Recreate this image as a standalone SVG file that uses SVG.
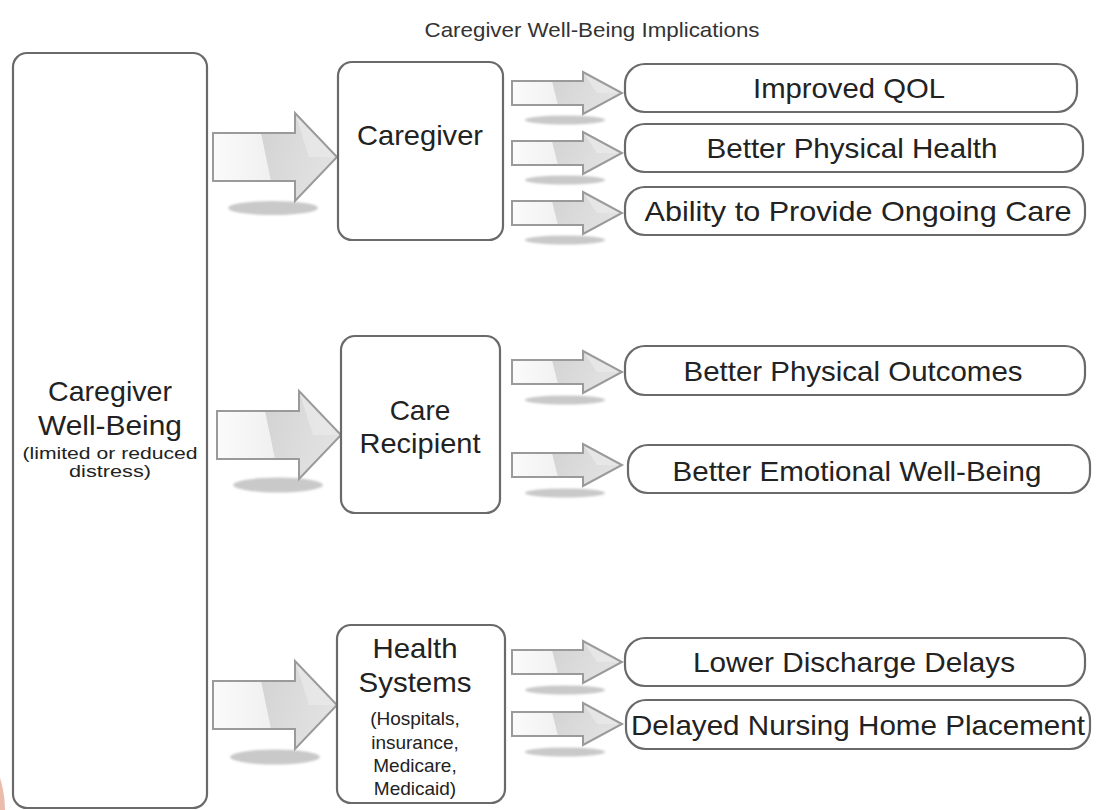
<svg xmlns="http://www.w3.org/2000/svg" width="1096" height="810" viewBox="0 0 1096 810">
  <defs>
    <style>
      text { font-family: "Liberation Sans", Arial, Helvetica, sans-serif; fill: #222; text-anchor: middle; }
      .title { font-size: 21px; fill: #333; }
      .big { font-size: 28px; }
      .small { font-size: 19px; }
      .note { font-size: 17px; }
      .box { fill: #fff; stroke: #6a6a6a; stroke-width: 2.2; }
      .arrow-outline { stroke: #9a9a9a; stroke-width: 2; stroke-linejoin: miter; }
      .shadow { fill: #c9c9c9; filter: url(#soft); }
    </style>
    <filter id="soft" x="-20%" y="-100%" width="140%" height="300%">
      <feGaussianBlur stdDeviation="1.2"/>
    </filter>
    <linearGradient id="bodyFill" x1="0" y1="0" x2="1" y2="0">
      <stop offset="0" stop-color="#fbfbfb"/>
      <stop offset="0.5" stop-color="#efefef"/>
      <stop offset="1" stop-color="#e4e4e4"/>
    </linearGradient>
    <linearGradient id="darkFill" x1="0" y1="0" x2="1" y2="0.4">
      <stop offset="0" stop-color="#d2d2d2"/>
      <stop offset="0.6" stop-color="#dcdcdc"/>
      <stop offset="1" stop-color="#e2e2e2"/>
    </linearGradient>
    <!-- large block arrow, origin at tail centre -->
    <g id="bigArrow">
      <path d="M0,-24 H82 V-44 L124,0 L82,44 V24 H0 Z" fill="url(#bodyFill)"/>
      <path d="M48,-24 H82 V-44 L124,0 L82,44 V24 H58 Z" fill="url(#darkFill)"/>
      <path d="M82,-44 L124,0 L96,0 Z" fill="#e9e9e9" opacity="0.8"/>
      <path d="M0,-24 H82 V-44 L124,0 L82,44 V24 H0 Z" fill="none" class="arrow-outline"/>
    </g>
    <!-- small block arrow, origin at tail centre -->
    <g id="smallArrow">
      <path d="M0,-12 H71 V-21 L110,0 L71,21 V12 H0 Z" fill="url(#bodyFill)"/>
      <path d="M40,-12 H71 V-21 L110,0 L71,21 V12 H46 Z" fill="url(#darkFill)"/>
      <path d="M71,-21 L110,0 L85,0 Z" fill="#e9e9e9" opacity="0.8"/>
      <path d="M0,-12 H71 V-21 L110,0 L71,21 V12 H0 Z" fill="none" class="arrow-outline" stroke-width="1.6"/>
    </g>
  </defs>

  <rect width="1096" height="810" fill="#fff"/>

  <!-- corner mark -->
  <circle cx="-100" cy="810" r="105" fill="#ebbcab"/>

  <text class="title" x="592" y="37" textLength="335" lengthAdjust="spacingAndGlyphs">Caregiver Well-Being Implications</text>

  <!-- connectors: block arrows with floor shadows -->
  <g id="connectors">
    <ellipse class="shadow" cx="273" cy="208" rx="45" ry="7"/>
    <use href="#bigArrow" transform="translate(213,157)"/>
    <ellipse class="shadow" cx="278" cy="485" rx="45" ry="7.5"/>
    <use href="#bigArrow" transform="translate(217,435)"/>
    <ellipse class="shadow" cx="275" cy="757" rx="45" ry="7.5"/>
    <use href="#bigArrow" transform="translate(213,705)"/>

    <ellipse class="shadow" cx="565" cy="120" rx="40" ry="4.5"/>
    <use href="#smallArrow" transform="translate(512,93)"/>
    <ellipse class="shadow" cx="565" cy="180" rx="40" ry="4.5"/>
    <use href="#smallArrow" transform="translate(512,153)"/>
    <ellipse class="shadow" cx="565" cy="240" rx="40" ry="4.5"/>
    <use href="#smallArrow" transform="translate(512,213)"/>
    <ellipse class="shadow" cx="565" cy="400" rx="40" ry="4.5"/>
    <use href="#smallArrow" transform="translate(512,372)"/>
    <ellipse class="shadow" cx="565" cy="493" rx="40" ry="4.5"/>
    <use href="#smallArrow" transform="translate(512,465)"/>
    <ellipse class="shadow" cx="565" cy="690" rx="40" ry="4.5"/>
    <use href="#smallArrow" transform="translate(512,662)"/>
    <ellipse class="shadow" cx="565" cy="752" rx="40" ry="4.5"/>
    <use href="#smallArrow" transform="translate(512,724)"/>
  </g>

  <g id="well-being">
    <rect class="box" x="13" y="53" width="194" height="755" rx="14"/>
    <text class="big" x="110" y="401" textLength="124" lengthAdjust="spacingAndGlyphs">Caregiver</text>
    <text class="big" x="110" y="435" textLength="144" lengthAdjust="spacingAndGlyphs">Well-Being</text>
    <text class="note" x="110" y="459" textLength="175" lengthAdjust="spacingAndGlyphs">(limited or reduced</text>
    <text class="note" x="110" y="477" textLength="82" lengthAdjust="spacingAndGlyphs">distress)</text>
  </g>

  <g id="caregiver">
    <rect class="box" x="338" y="62" width="165" height="178" rx="14"/>
    <text class="big" x="420" y="145" textLength="126" lengthAdjust="spacingAndGlyphs">Caregiver</text>
  </g>

  <g id="care-recipient">
    <rect class="box" x="341" y="336" width="159" height="177" rx="14"/>
    <text class="big" x="420" y="420">Care</text>
    <text class="big" x="420" y="453" textLength="121" lengthAdjust="spacingAndGlyphs">Recipient</text>
  </g>

  <g id="health-systems">
    <rect class="box" x="337" y="625" width="168" height="178" rx="14"/>
    <text class="big" x="415" y="658" textLength="85" lengthAdjust="spacingAndGlyphs">Health</text>
    <text class="big" x="415" y="692" textLength="113" lengthAdjust="spacingAndGlyphs">Systems</text>
    <text class="small" x="415" y="725">(Hospitals,</text>
    <text class="small" x="415" y="749">insurance,</text>
    <text class="small" x="415" y="772">Medicare,</text>
    <text class="small" x="415" y="795">Medicaid)</text>
  </g>

  <g id="improved-qol">
    <rect class="box" x="625" y="64" width="452" height="48" rx="20"/>
    <text class="big" x="849" y="98" textLength="192" lengthAdjust="spacingAndGlyphs">Improved QOL</text>
  </g>
  <g id="physical-health">
    <rect class="box" x="625" y="124" width="458" height="48" rx="20"/>
    <text class="big" x="852" y="158" textLength="291" lengthAdjust="spacingAndGlyphs">Better Physical Health</text>
  </g>
  <g id="ongoing-care">
    <rect class="box" x="625" y="187" width="460" height="48" rx="20"/>
    <text class="big" x="858" y="221" textLength="427" lengthAdjust="spacingAndGlyphs">Ability to Provide Ongoing Care</text>
  </g>
  <g id="physical-outcomes">
    <rect class="box" x="625" y="346" width="460" height="49" rx="20"/>
    <text class="big" x="853" y="381" textLength="339" lengthAdjust="spacingAndGlyphs">Better Physical Outcomes</text>
  </g>
  <g id="emotional-well-being">
    <rect class="box" x="628" y="445" width="462" height="48" rx="20"/>
    <text class="big" x="857" y="481" textLength="369" lengthAdjust="spacingAndGlyphs">Better Emotional Well-Being</text>
  </g>
  <g id="discharge-delays">
    <rect class="box" x="625" y="638" width="460" height="48" rx="20"/>
    <text class="big" x="854" y="672" textLength="322" lengthAdjust="spacingAndGlyphs">Lower Discharge Delays</text>
  </g>
  <g id="nursing-home">
    <rect class="box" x="626" y="700" width="464" height="49" rx="20"/>
    <text class="big" x="858" y="735" textLength="454" lengthAdjust="spacingAndGlyphs">Delayed Nursing Home Placement</text>
  </g>
</svg>
